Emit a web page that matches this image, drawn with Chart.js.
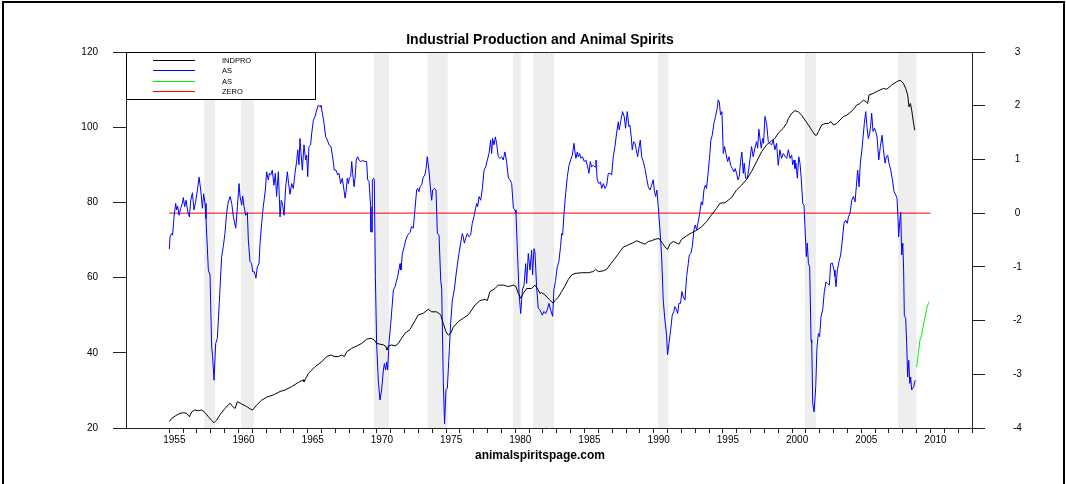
<!DOCTYPE html>
<html><head><meta charset="utf-8">
<script src="https://cdn.jsdelivr.net/npm/chart.js@4"></script>
<style>html,body{margin:0;padding:0;background:#fff}#wrap{width:1066px;height:484px}</style>
</head><body><div id="wrap"><canvas id="c" width="1066" height="484"></canvas></div>
<script>
// ---- data ----
const indproYears = [1955.00,1955.19,1955.43,1955.65,1956.01,1956.25,1956.45,1956.62,1956.85,1957.10,1957.34,1957.58,1957.82,1958.06,1958.23,1958.42,1958.66,1959.02,1959.39,1959.58,1959.75,1959.92,1960.23,1960.59,1960.88,1961.02,1961.31,1961.67,1962.03,1962.52,1963.00,1963.36,1963.84,1964.32,1964.68,1964.73,1965.05,1965.53,1966.01,1966.37,1966.66,1966.97,1967.21,1967.45,1967.65,1967.82,1968.18,1968.54,1968.90,1969.26,1969.57,1969.81,1969.98,1970.22,1970.47,1970.63,1970.73,1970.83,1971.07,1971.31,1971.55,1971.79,1972.03,1972.39,1972.75,1972.99,1973.35,1973.71,1973.96,1974.32,1974.61,1974.80,1974.99,1975.16,1975.33,1975.52,1975.88,1976.24,1976.61,1976.85,1977.09,1977.45,1977.81,1977.98,1978.17,1978.53,1978.77,1979.13,1979.50,1979.86,1980.05,1980.22,1980.39,1980.58,1980.82,1981.18,1981.42,1981.66,1981.78,1981.90,1982.14,1982.50,1982.74,1982.87,1983.11,1983.35,1983.59,1983.83,1984.07,1984.31,1984.79,1985.27,1985.63,1985.80,1986.00,1986.36,1986.60,1986.84,1987.20,1987.56,1987.80,1988.16,1988.53,1988.77,1989.08,1989.37,1989.61,1989.85,1990.09,1990.38,1990.64,1990.81,1991.00,1991.17,1991.41,1991.61,1991.82,1992.02,1992.38,1992.74,1993.10,1993.46,1993.82,1994.18,1994.54,1994.79,1995.15,1995.39,1995.63,1995.99,1996.35,1996.71,1997.07,1997.43,1997.80,1998.16,1998.52,1998.76,1999.00,1999.36,1999.60,1999.73,1999.97,2000.21,2000.45,2000.69,2000.93,2001.18,2001.42,2001.66,2001.78,2001.90,2002.14,2002.38,2002.62,2002.81,2002.98,2003.22,2003.46,2003.70,2003.95,2004.19,2004.43,2004.67,2004.91,2005.15,2005.34,2005.46,2005.56,2005.87,2006.23,2006.60,2006.84,2007.20,2007.56,2007.80,2008.04,2008.21,2008.35,2008.45,2008.55,2008.64,2008.76,2008.86];
const indproValues = [21.7,22.6,23.2,23.7,24.1,23.9,23.0,24.3,24.8,24.6,24.8,24.1,23.0,22.0,21.4,22.1,23.5,25.2,26.6,25.7,25.2,27.0,26.4,25.7,25.0,24.8,26.1,27.4,28.2,28.8,29.7,30.1,31.0,32.1,32.8,32.3,34.5,36.3,37.6,39.0,39.4,39.0,39.0,39.4,39.0,40.3,41.2,41.8,42.5,43.6,43.9,43.4,42.5,42.3,42.1,41.8,40.7,41.8,42.1,41.8,42.5,43.9,45.2,46.2,48.5,50.1,50.5,51.6,50.9,50.9,50.1,47.8,45.6,44.7,45.2,46.8,48.3,49.2,50.1,51.4,52.7,53.9,54.2,53.9,56.3,57.1,58.0,58.0,57.6,58.0,57.6,55.8,54.5,55.8,57.1,57.1,58.0,56.7,55.8,56.0,55.4,54.0,53.2,53.9,54.8,56.3,57.8,59.5,60.7,61.1,61.3,61.3,61.6,62.2,61.6,61.8,62.2,63.4,65.1,66.9,68.1,68.7,69.3,69.8,69.3,68.9,69.6,69.8,70.2,70.4,69.1,68.2,67.5,68.9,69.6,69.3,68.9,70.2,71.1,71.9,72.6,73.5,74.9,76.7,78.4,79.8,79.9,80.6,81.3,83.3,84.6,86.1,88.2,90.8,93.5,95.3,96.4,97.0,98.4,99.7,101.0,102.3,103.7,104.4,104.1,103.2,101.9,100.6,99.2,97.9,97.9,98.8,100.6,101.0,101.0,101.5,100.6,101.0,101.9,102.8,103.2,103.9,104.7,105.9,106.3,107.2,106.8,106.3,108.6,109.0,109.7,110.3,110.1,111.2,112.1,112.5,111.7,110.3,108.6,105.4,106.3,104.6,101.5,99.2];

const asYears = [1955.00,1955.05,1955.17,1955.24,1955.34,1955.46,1955.53,1955.60,1955.70,1955.82,1955.94,1956.01,1956.11,1956.21,1956.33,1956.45,1956.55,1956.67,1956.78,1956.90,1957.03,1957.15,1957.27,1957.39,1957.48,1957.58,1957.65,1957.82,1957.94,1958.06,1958.13,1958.23,1958.35,1958.47,1958.61,1958.78,1958.90,1959.02,1959.14,1959.26,1959.39,1959.51,1959.63,1959.80,1959.92,1960.04,1960.11,1960.23,1960.30,1960.40,1960.52,1960.64,1960.71,1960.83,1960.95,1961.02,1961.14,1961.26,1961.36,1961.48,1961.55,1961.67,1961.79,1961.94,1962.03,1962.15,1962.23,1962.32,1962.44,1962.56,1962.66,1962.75,1962.88,1963.00,1963.09,1963.19,1963.29,1963.41,1963.53,1963.62,1963.72,1963.84,1963.96,1964.08,1964.20,1964.28,1964.37,1964.44,1964.52,1964.61,1964.73,1964.85,1964.93,1965.00,1965.09,1965.21,1965.29,1965.41,1965.53,1965.65,1965.77,1965.89,1965.96,1966.06,1966.18,1966.30,1966.42,1966.54,1966.68,1966.80,1966.92,1967.04,1967.17,1967.26,1967.38,1967.50,1967.62,1967.70,1967.77,1967.86,1967.94,1968.00,1968.10,1968.18,1968.25,1968.35,1968.42,1968.51,1968.61,1968.71,1968.83,1968.95,1969.14,1969.26,1969.33,1969.43,1969.55,1969.57,1969.65,1969.67,1969.77,1969.81,1969.89,1969.98,1970.10,1970.22,1970.34,1970.47,1970.54,1970.63,1970.71,1970.78,1970.87,1971.02,1971.19,1971.31,1971.50,1971.67,1971.74,1971.84,1971.98,1972.08,1972.22,1972.39,1972.51,1972.63,1972.75,1972.87,1972.94,1973.04,1973.11,1973.23,1973.35,1973.47,1973.55,1973.64,1973.76,1973.88,1973.96,1974.03,1974.15,1974.27,1974.37,1974.49,1974.61,1974.68,1974.80,1974.89,1974.99,1975.09,1975.23,1975.33,1975.45,1975.59,1975.76,1975.93,1976.05,1976.17,1976.24,1976.32,1976.41,1976.53,1976.65,1976.77,1976.89,1977.01,1977.13,1977.21,1977.28,1977.38,1977.50,1977.62,1977.74,1977.86,1977.98,1978.10,1978.22,1978.29,1978.36,1978.46,1978.56,1978.65,1978.77,1978.89,1979.01,1979.13,1979.25,1979.37,1979.50,1979.62,1979.74,1979.86,1979.98,1980.05,1980.15,1980.27,1980.39,1980.51,1980.63,1980.75,1980.82,1980.94,1981.06,1981.18,1981.25,1981.35,1981.42,1981.54,1981.66,1981.78,1981.95,1982.07,1982.19,1982.31,1982.43,1982.55,1982.70,1982.79,1982.91,1983.03,1983.15,1983.27,1983.35,1983.42,1983.52,1983.64,1983.76,1983.88,1984.00,1984.12,1984.24,1984.31,1984.38,1984.48,1984.55,1984.65,1984.74,1984.86,1984.98,1985.10,1985.23,1985.32,1985.42,1985.51,1985.63,1985.76,1985.83,1985.92,1986.04,1986.16,1986.24,1986.36,1986.48,1986.60,1986.72,1986.84,1986.96,1987.08,1987.20,1987.32,1987.44,1987.51,1987.63,1987.75,1987.87,1987.97,1988.09,1988.21,1988.28,1988.38,1988.45,1988.55,1988.65,1988.74,1988.84,1988.93,1989.03,1989.13,1989.25,1989.37,1989.49,1989.61,1989.73,1989.85,1989.97,1990.04,1990.14,1990.23,1990.33,1990.45,1990.57,1990.69,1990.81,1990.93,1991.00,1991.10,1991.22,1991.34,1991.46,1991.53,1991.65,1991.73,1991.82,1991.94,1992.04,1992.14,1992.26,1992.38,1992.50,1992.57,1992.69,1992.79,1992.91,1993.00,1993.10,1993.22,1993.34,1993.44,1993.53,1993.63,1993.73,1993.82,1993.94,1994.06,1994.13,1994.23,1994.35,1994.47,1994.59,1994.66,1994.74,1994.83,1994.93,1995.03,1995.12,1995.22,1995.34,1995.44,1995.56,1995.68,1995.80,1995.89,1995.99,1996.09,1996.18,1996.28,1996.37,1996.47,1996.54,1996.64,1996.76,1996.86,1996.95,1997.07,1997.19,1997.31,1997.43,1997.51,1997.60,1997.68,1997.77,1997.87,1997.94,1998.04,1998.16,1998.28,1998.40,1998.52,1998.64,1998.76,1998.88,1999.00,1999.12,1999.24,1999.36,1999.49,1999.61,1999.73,1999.85,1999.97,2000.04,2000.14,2000.21,2000.28,2000.38,2000.48,2000.57,2000.65,2000.77,2000.86,2000.93,2001.03,2001.10,2001.18,2001.27,2001.37,2001.42,2001.49,2001.59,2001.71,2001.80,2001.90,2001.99,2002.09,2002.21,2002.33,2002.45,2002.57,2002.69,2002.79,2002.91,2003.03,2003.10,2003.17,2003.27,2003.39,2003.51,2003.63,2003.75,2003.87,2003.99,2004.07,2004.19,2004.31,2004.43,2004.55,2004.62,2004.74,2004.84,2004.93,2005.03,2005.13,2005.22,2005.32,2005.41,2005.51,2005.61,2005.68,2005.75,2005.85,2005.95,2006.04,2006.14,2006.26,2006.38,2006.50,2006.60,2006.72,2006.81,2006.91,2007.00,2007.13,2007.25,2007.37,2007.49,2007.58,2007.65,2007.70,2007.78,2007.85,2007.92,2008.00,2008.06,2008.11,2008.21,2008.28,2008.35,2008.43,2008.50,2008.57,2008.64,2008.71,2008.79,2008.86,2008.91];
const asValues = [-0.67,-0.44,-0.38,-0.41,-0.07,0.18,0.06,0.13,-0.04,0.09,0.18,0.29,0.12,0.24,0.03,-0.07,0.24,0.38,0.06,0.21,0.43,0.67,0.43,0.09,0.36,0.18,-0.10,-1.06,-1.15,-2.49,-2.67,-3.11,-2.43,-2.33,-1.68,-0.81,-0.62,-0.38,0.00,0.21,0.31,0.18,-0.07,-0.28,0.12,0.55,0.31,0.15,0.32,0.12,-0.04,0.01,-0.50,-0.90,-0.94,-1.09,-1.09,-1.21,-1.00,-0.94,-0.59,-0.19,0.12,0.43,0.77,0.62,0.74,0.71,0.80,0.52,0.74,0.31,0.77,-0.07,0.24,0.15,-0.04,0.49,0.77,0.55,0.35,0.55,0.46,0.74,0.96,1.18,0.90,1.39,1.11,0.80,1.27,0.99,1.08,0.68,1.24,1.27,1.49,1.73,1.80,1.92,2.01,1.98,2.01,1.86,1.67,1.42,1.36,1.27,1.24,1.05,0.80,0.80,0.71,0.74,0.55,0.65,0.43,0.28,0.40,0.65,0.55,0.65,0.68,0.96,0.74,0.49,0.65,0.99,1.05,0.99,0.96,0.98,0.96,0.96,0.62,0.59,0.12,-0.35,-0.35,0.62,0.65,0.62,-1.18,-2.43,-3.11,-3.48,-3.29,-2.92,-2.80,-2.92,-2.77,-2.92,-2.43,-1.99,-1.43,-1.37,-1.18,-0.94,-1.06,-0.75,-0.62,-0.50,-0.41,-0.36,-0.25,-0.28,0.07,0.43,0.46,0.40,0.49,0.52,0.67,0.71,0.83,1.05,0.80,0.43,0.24,0.43,0.46,0.43,-0.38,-0.41,-1.25,-1.40,-3.17,-3.92,-3.29,-3.26,-2.55,-2.05,-1.62,-1.43,-1.06,-0.75,-0.56,-0.38,-0.44,-0.56,-0.47,-0.38,-0.44,-0.41,-0.19,-0.07,0.09,0.18,0.12,0.31,0.24,0.46,0.80,0.86,0.99,1.11,1.36,1.11,1.39,1.27,1.42,1.30,1.05,1.02,1.05,0.99,1.14,0.96,0.65,0.62,0.55,0.09,0.06,0.00,-0.69,-1.49,-1.87,-1.43,-1.34,-0.94,-1.31,-0.75,-1.06,-0.69,-1.15,-0.66,-0.72,-1.37,-1.77,-1.80,-1.90,-1.83,-1.87,-1.80,-1.68,-1.80,-1.92,-1.43,-1.25,-1.00,-0.90,-0.62,-0.38,-0.41,0.00,0.37,0.68,0.89,0.99,1.08,1.30,1.14,1.02,1.14,1.05,1.11,1.02,1.05,0.96,0.99,0.86,0.74,0.96,0.86,0.89,0.86,0.99,0.62,0.55,0.58,0.46,0.55,0.46,0.52,0.74,0.74,0.71,1.05,1.24,1.49,1.70,1.55,1.73,1.89,1.80,1.58,1.89,1.61,1.64,1.42,1.18,1.33,1.30,1.18,1.05,1.21,1.36,1.05,0.96,0.83,0.65,0.49,0.43,0.52,0.62,0.43,0.31,0.43,0.12,-0.30,-0.78,-1.62,-1.99,-2.27,-2.64,-2.43,-2.18,-1.90,-1.83,-1.74,-1.80,-1.87,-1.68,-1.68,-1.46,-1.56,-1.62,-1.18,-0.94,-0.78,-0.75,-0.62,-0.31,-0.22,-0.31,-0.16,0.03,0.21,0.15,0.43,0.52,0.46,0.77,1.11,1.36,1.45,1.67,1.80,1.95,2.11,2.07,1.83,1.89,1.11,1.24,1.11,0.96,1.05,0.89,0.83,0.77,0.83,0.74,0.62,0.68,0.96,1.14,0.74,0.93,0.65,0.65,0.80,0.99,1.24,1.05,1.21,1.33,1.21,1.56,1.39,1.21,1.39,1.30,1.80,1.67,1.33,1.30,1.27,1.36,1.18,1.30,0.89,1.18,1.02,1.11,1.06,1.02,1.18,1.02,1.08,0.90,0.99,0.83,0.93,0.65,1.05,0.93,0.68,0.18,0.15,-0.25,-0.81,-0.56,-0.94,-1.00,-2.36,-2.42,-3.54,-3.70,-3.23,-2.49,-2.24,-2.30,-1.93,-1.80,-1.46,-1.28,-1.31,-1.34,-0.94,-0.93,-1.06,-1.18,-1.37,-1.06,-0.90,-0.78,-0.50,-0.19,-0.13,-0.19,-0.07,0.00,0.24,0.31,0.21,0.43,0.80,0.49,0.93,1.14,1.42,1.67,1.89,1.61,1.39,1.49,1.64,1.86,1.52,1.58,1.52,1.42,0.99,1.24,1.45,1.18,0.93,1.05,1.08,0.93,0.80,0.62,0.40,0.34,0.28,-0.07,-0.44,-0.16,0.02,-0.78,-0.56,-1.06,-1.90,-1.96,-2.43,-3.05,-2.74,-3.17,-3.05,-3.29,-3.26,-3.23,-3.14,-3.11];

const asForecastYears = [2009.00,2009.12,2009.24,2009.36,2009.49,2009.61,2009.73,2009.85,2009.92];
const asForecastValues = [-2.86,-2.61,-2.36,-2.27,-2.08,-1.93,-1.77,-1.68,-1.65];

const zeroYears = [1955, 2010];
const zeroValues = [0, 0];

const recessionStarts = [1957.52, 1960.19, 1969.79, 1973.67, 1979.83, 1981.30, 1990.33, 2000.93, 2007.67];
const recessionEnds   = [1958.31, 1961.10, 1970.87, 1975.11, 1980.39, 1982.80, 1991.08, 2001.72, 2009.00];

const xTickYears = [1955,1956,1957,1958,1959,1960,1961,1962,1963,1964,1965,1966,1967,1968,1969,1970,1971,1972,1973,1974,1975,1976,1977,1978,1979,1980,1981,1982,1983,1984,1985,1986,1987,1988,1989,1990,1991,1992,1993,1994,1995,1996,1997,1998,1999,2000,2001,2002,2003,2004,2005,2006,2007,2008,2009,2010,2011,2012,2013];
const xLabelYears = [1955,1960,1965,1970,1975,1980,1985,1990,1995,2000,2005,2010];
const leftTicks = [20,40,60,80,100,120];
const rightTicks = [-4,-3,-2,-1,0,1,2,3];
const seriesLabels = ['INDPRO','AS','AS','ZERO'];
const titleText = 'Industrial Production and Animal Spirits';
const sourceText = 'animalspiritspage.com';

// ---- styles (kept apart from the data) ----
const seriesColors = ['#000000', '#0000ff', '#00ee00', '#ff0000'];
const seriesAxes = ['y', 'y2', 'y2', 'y2'];
const FONT = '"Liberation Sans", Arial, Helvetica, sans-serif';
const pts = (xs, ys) => xs.map((x, i) => ({x: x, y: ys[i]}));

const bandsPlugin = {
  id: 'bands',
  beforeDraw(chart) {
    const {ctx, chartArea: a, scales: {x}} = chart;
    ctx.save();
    ctx.fillStyle = '#eeeeee';
    recessionStarts.forEach((s, i) => {
      const x1 = x.getPixelForValue(s), x2 = x.getPixelForValue(recessionEnds[i]);
      ctx.fillRect(x1, a.top, x2 - x1, a.bottom - a.top);
    });
    ctx.restore();
  }
};

const legendPlugin = {
  id: 'boxLegend',
  afterDatasetsDraw(chart) {
    const {ctx, chartArea: a} = chart;
    ctx.save();
    const L = Math.round(a.left), T = Math.round(a.top);
    ctx.fillStyle = '#ffffff';
    ctx.fillRect(L + 0.5, T + 0.5, 189, 47);
    ctx.lineWidth = 1;
    ctx.strokeStyle = '#000000';
    ctx.strokeRect(L + 0.5, T + 0.5, 189, 47);
    ctx.font = '7.5px ' + FONT;
    ctx.textBaseline = 'middle';
    ctx.textAlign = 'left';
    seriesLabels.forEach((label, i) => {
      const y = Math.round(T + 8 + i * 10.3);
      ctx.fillStyle = seriesColors[i];
      ctx.fillRect(L + 27, y, 42, 1);
      ctx.fillStyle = '#000000';
      ctx.fillText(label, L + 96, y + 0.5);
    });
    ctx.restore();
  }
};

const framePlugin = {
  id: 'frame',
  afterDraw(chart) {
    const ctx = chart.ctx;
    ctx.save();
    ctx.strokeStyle = '#000';
    ctx.lineWidth = 2;
    ctx.strokeRect(3, 2, 1061, 500);
    ctx.restore();
  }
};

const tickFont = {family: FONT, size: 10};
const xMin = 1951.87, xMax = 2013.0;
const datasets = [
  [indproYears, indproValues],
  [asYears, asValues],
  [asForecastYears, asForecastValues],
  [zeroYears, zeroValues]
].map((p, i) => ({
  label: seriesLabels[i], data: pts(p[0], p[1]), borderColor: seriesColors[i], backgroundColor: seriesColors[i],
  yAxisID: seriesAxes[i], xAxisID: 'x', borderWidth: 1, pointRadius: 0, tension: 0, fill: false
}));

new Chart(document.getElementById('c'), {
  type: 'line',
  data: {datasets: datasets},
  options: {
    responsive: false,
    animation: false,
    devicePixelRatio: 1,
    events: [],
    layout: {padding: {left: 14, right: 0, top: 0, bottom: 0}},
    plugins: {
      legend: {display: false},
      tooltip: {enabled: false},
      title: {display: true, text: titleText, color: '#000',
        font: {family: FONT, size: 14, weight: 'bold'}, padding: {top: 31.6, bottom: 3.6}},
      subtitle: {display: true, position: 'bottom', text: sourceText, color: '#000',
        font: {family: FONT, size: 12, weight: 'bold'}, padding: {top: 0, bottom: 21.6}}
    },
    scales: {
      x: {
        type: 'linear', position: 'bottom', min: xMin, max: xMax,
        afterBuildTicks: s => { s.ticks = xTickYears.map(v => ({value: v})); },
        afterFit: s => { s.height = 20; },
        grid: {drawOnChartArea: false, drawTicks: true, tickLength: 5, color: '#222', lineWidth: 1},
        border: {display: true, color: '#222', width: 1},
        ticks: {autoSkip: false, maxRotation: 0, minRotation: 0, padding: 1, labelOffset: 5, color: '#000', font: tickFont,
          callback: v => xLabelYears.includes(v) ? String(v) : ''}
      },
      xTop: {
        type: 'linear', position: 'top', min: xMin, max: xMax,
        afterFit: s => { s.height = 0; },
        grid: {display: false, drawTicks: false},
        border: {display: true, color: '#222', width: 1},
        ticks: {display: false}
      },
      y: {
        type: 'linear', position: 'left', min: 20, max: 120,
        afterBuildTicks: s => { s.ticks = leftTicks.map(v => ({value: v})); },
        afterFit: s => { s.width = 112; },
        grid: {drawOnChartArea: false, drawTicks: true, tickLength: 13, color: '#222', lineWidth: 1},
        border: {display: true, color: '#222', width: 1},
        ticks: {padding: 15, color: '#000', font: tickFont, callback: v => String(v)}
      },
      y2: {
        type: 'linear', position: 'right', min: -4, max: 3,
        afterBuildTicks: s => { s.ticks = rightTicks.map(v => ({value: v})); },
        afterFit: s => { s.width = 94; },
        grid: {drawOnChartArea: false, drawTicks: true, tickLength: 13, color: '#222', lineWidth: 1},
        border: {display: true, color: '#222', width: 1},
        ticks: {padding: 28, crossAlign: 'center', color: '#000', font: tickFont, callback: v => String(v)}
      }
    }
  },
  plugins: [bandsPlugin, legendPlugin, framePlugin]
});
</script>
</body></html>
